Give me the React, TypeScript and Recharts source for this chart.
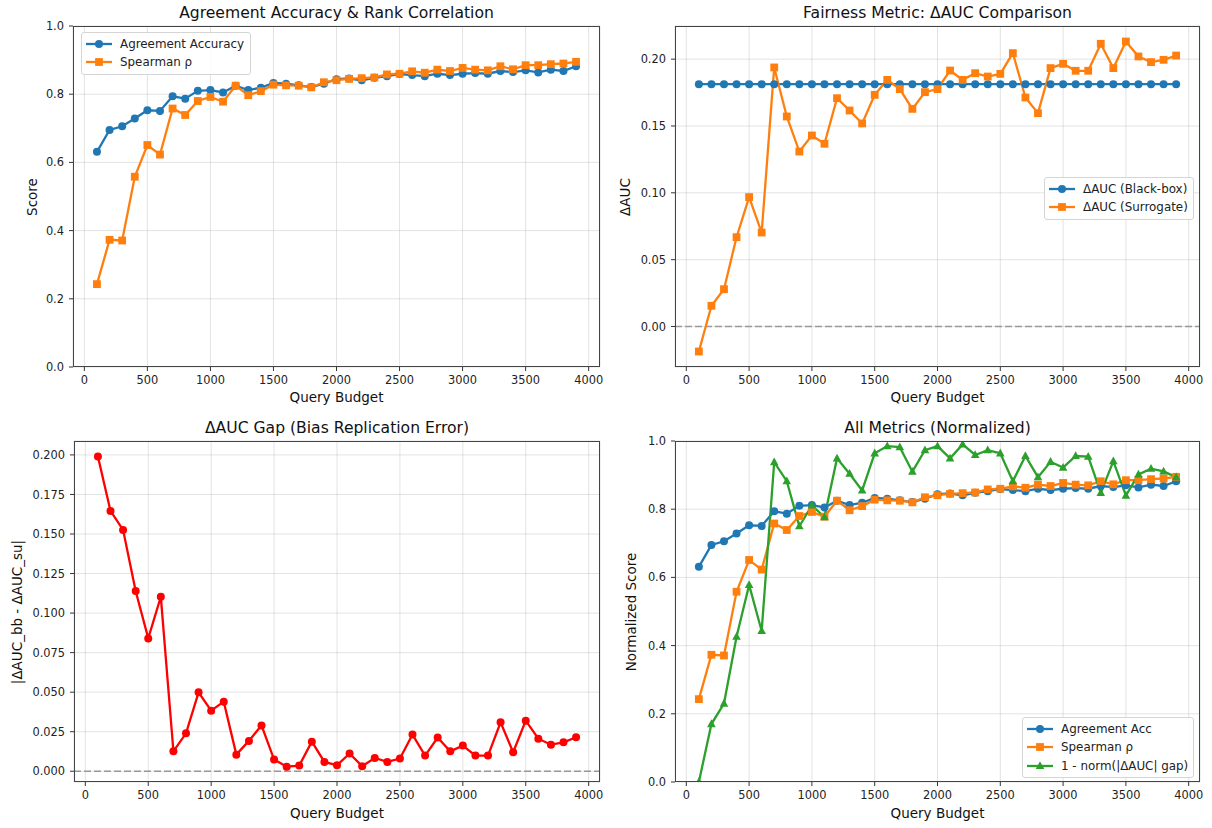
import React from "react"
import {
  LineChart,
  Line,
  XAxis,
  YAxis,
  CartesianGrid,
  ReferenceLine,
} from "recharts"

// query budgets (x values)
const budgets = [
  100, 200, 300, 400, 500, 600, 700, 800, 900, 1000, 1100, 1200, 1300,
  1400, 1500, 1600, 1700, 1800, 1900, 2000, 2100, 2200, 2300, 2400, 2500,
  2600, 2700, 2800, 2900, 3000, 3100, 3200, 3300, 3400, 3500, 3600, 3700,
  3800, 3900,
]

const agreementAcc = [
  0.631, 0.695, 0.706, 0.729, 0.753, 0.751, 0.794, 0.787, 0.81, 0.812,
  0.805, 0.825, 0.812, 0.819, 0.833, 0.831, 0.826, 0.821, 0.831, 0.844,
  0.846, 0.841, 0.848, 0.853, 0.859, 0.856, 0.853, 0.86, 0.856, 0.86,
  0.862, 0.86, 0.868, 0.865, 0.87, 0.864, 0.872, 0.868, 0.882,
]

const spearman = [
  0.243, 0.373, 0.371, 0.558, 0.651, 0.623, 0.758, 0.739, 0.78, 0.792,
  0.778, 0.825, 0.797, 0.809, 0.828, 0.826, 0.825, 0.82, 0.835, 0.841,
  0.845, 0.847, 0.849, 0.858, 0.86, 0.867, 0.863, 0.872, 0.868, 0.877,
  0.872, 0.87, 0.882, 0.873, 0.885, 0.885, 0.888, 0.89, 0.895,
]

const dAucBlackBox = [
  0.1813, 0.1813, 0.1813, 0.1813, 0.1813, 0.1813, 0.1813, 0.1813, 0.1813,
  0.1813, 0.1813, 0.1813, 0.1813, 0.1813, 0.1813, 0.1813, 0.1813, 0.1813,
  0.1813, 0.1813, 0.1813, 0.1813, 0.1813, 0.1813, 0.1813, 0.1813, 0.1813,
  0.1813, 0.1813, 0.1813, 0.1813, 0.1813, 0.1813, 0.1813, 0.1813, 0.1813,
  0.1813, 0.1813, 0.1813,
]

const dAucSurrogate = [
  -0.0187, 0.0155, 0.0279, 0.0668, 0.0968, 0.0703, 0.1938, 0.1571, 0.1309,
  0.1429, 0.1367, 0.1708, 0.1616, 0.1519, 0.1733, 0.1845, 0.1776, 0.1628,
  0.1753, 0.1776, 0.1915, 0.1845, 0.1895, 0.187, 0.189, 0.2045, 0.1713,
  0.1596, 0.1933, 0.1965, 0.1913, 0.1913, 0.2115, 0.1933, 0.2132, 0.202,
  0.1978, 0.1995, 0.2027,
]

const aucGap = [
  0.199, 0.1646, 0.1526, 0.1139, 0.084, 0.1103, 0.0126, 0.024, 0.0499,
  0.0383, 0.044, 0.0105, 0.0192, 0.029, 0.0074, 0.0029, 0.0036, 0.0187,
  0.0059, 0.0038, 0.0112, 0.0032, 0.0084, 0.0059, 0.008, 0.0232, 0.0099,
  0.0213, 0.0126, 0.0162, 0.0099, 0.0099, 0.0309, 0.012, 0.032, 0.0206,
  0.0168, 0.0183, 0.0215,
]

const gapScore = [
  0, 0.17, 0.23, 0.426, 0.578, 0.443, 0.938, 0.882, 0.75, 0.811, 0.777,
  0.949, 0.904, 0.855, 0.964, 0.985, 0.982, 0.91, 0.973, 0.985, 0.949,
  0.99, 0.959, 0.973, 0.964, 0.882, 0.956, 0.894, 0.939, 0.922, 0.956,
  0.954, 0.848, 0.941, 0.84, 0.902, 0.919, 0.911, 0.894,
]

const budgetTicks = [0, 500, 1000, 1500, 2000, 2500, 3000, 3500, 4000]
const scoreTicks = [0, 0.2, 0.4, 0.6, 0.8, 1.0]
const aucTicks = [0, 0.05, 0.1, 0.15, 0.2]
const gapTicks = [0, 0.025, 0.05, 0.075, 0.1, 0.125, 0.15, 0.175, 0.2]

const rows = budgets.map((b, i) => ({
  budget: b,
  acc: agreementAcc[i],
  rho: spearman[i],
  bb: dAucBlackBox[i],
  sur: dAucSurrogate[i],
  gap: aucGap[i],
  gapScore: gapScore[i],
}))

const BLUE = "#1f77b4"
const ORANGE = "#ff7f0e"
const GREEN = "#2ca02c"
const RED = "#ff0000"
const FONT = "'DejaVu Sans', sans-serif"

type Shape = "circle" | "square" | "triangle"

function markerEl(shape: Shape, x: number, y: number, color: string, key?: string) {
  if (shape === "square") {
    return <rect key={key} x={x - 3.9} y={y - 3.9} width={7.8} height={7.8} fill={color} />
  }
  if (shape === "triangle") {
    return (
      <polygon
        key={key}
        points={`${x},${y - 4.7} ${x - 4.3},${y + 3.1} ${x + 4.3},${y + 3.1}`}
        fill={color}
      />
    )
  }
  return <circle key={key} cx={x} cy={y} r={4} fill={color} />
}

const dotFor = (shape: Shape, color: string) => (props: any) =>
  markerEl(shape, props.cx, props.cy, color, `${shape}-${props.index}`)

interface LegendItem {
  label: string
  color: string
  shape: Shape
}

function PlotLegend({ items, left, top, width }: { items: LegendItem[]; left: number; top: number; width: number }) {
  return (
    <div
      style={{
        position: "absolute",
        left,
        top,
        width,
        boxSizing: "border-box",
        border: "1px solid #d5d5d5",
        borderRadius: 3,
        background: "rgba(255,255,255,0.85)",
        padding: "2px 0 2px 4px",
        fontFamily: FONT,
        fontSize: 11.9,
        color: "#222",
      }}
    >
      {items.map((it) => (
        <div key={it.label} style={{ display: "flex", alignItems: "center", height: 18.3 }}>
          <svg width={26} height={12} style={{ marginRight: 8, flex: "none" }}>
            <line x1={0} y1={6} x2={26} y2={6} stroke={it.color} strokeWidth={2.3} />
            {markerEl(it.shape, 13, 6, it.color)}
          </svg>
          <span style={{ whiteSpace: "nowrap" }}>{it.label}</span>
        </div>
      ))}
    </div>
  )
}

interface Rect {
  l: number
  t: number
  r: number
  b: number
}

const Y_W = 60
const X_H = 40
const PAD = 6

function Panel({
  rect,
  yDomain,
  yTicks,
  yFmt,
  zeroLine,
  children,
}: {
  rect: Rect
  yDomain: [number, number]
  yTicks: number[]
  yFmt: (v: number) => string
  zeroLine?: boolean
  children: React.ReactNode
}) {
  const w = rect.r - rect.l + Y_W + PAD
  const h = rect.b - rect.t + PAD + X_H
  const tickStyle = { fontSize: 11.4, fill: "#222", fontFamily: FONT }
  return (
    <>
      <div style={{ position: "absolute", left: rect.l - Y_W, top: rect.t - PAD }}>
        <LineChart width={w} height={h} data={rows} margin={{ top: PAD, right: PAD, bottom: 0, left: 0 }}>
          <CartesianGrid stroke="#b0b0b0" strokeOpacity={0.35} strokeWidth={1} />
          <XAxis
            type="number"
            dataKey="budget"
            domain={[-90, 4090]}
            ticks={budgetTicks}
            interval={0}
            allowDataOverflow
            height={X_H}
            axisLine={false}
            tickLine={{ stroke: "#333" }}
            tickSize={4}
            tickMargin={5}
            tick={tickStyle}
          />
          <YAxis
            type="number"
            domain={yDomain}
            ticks={yTicks}
            interval={0}
            allowDataOverflow
            width={Y_W}
            axisLine={false}
            tickLine={{ stroke: "#333" }}
            tickSize={4}
            tickMargin={5}
            tick={tickStyle}
            tickFormatter={yFmt}
          />
          {zeroLine && (
            <ReferenceLine y={0} stroke="#999" strokeWidth={1.4} strokeDasharray="7 3" />
          )}
          {children}
        </LineChart>
      </div>
      <div
        style={{
          position: "absolute",
          left: rect.l,
          top: rect.t,
          width: rect.r - rect.l,
          height: rect.b - rect.t,
          boxSizing: "border-box",
          border: "1px solid #444",
          pointerEvents: "none",
        }}
      />
    </>
  )
}

function Text({ x, y, size, rotate, children }: { x: number; y: number; size: number; rotate?: boolean; children: React.ReactNode }) {
  return (
    <div
      style={{
        position: "absolute",
        left: x,
        top: y,
        transform: `translate(-50%, -50%)${rotate ? " rotate(-90deg)" : ""}`,
        whiteSpace: "nowrap",
        fontFamily: FONT,
        fontSize: size,
        lineHeight: 1,
        color: "#111",
      }}
    >
      {children}
    </div>
  )
}

const P1: Rect = { l: 73, t: 26, r: 600, b: 367 }
const P2: Rect = { l: 675, t: 26, r: 1200, b: 367 }
const P3: Rect = { l: 74, t: 441, r: 600, b: 782 }
const P4: Rect = { l: 675, t: 441, r: 1200, b: 782 }

const line = (key: string, color: string, shape: Shape) => (
  <Line
    key={key}
    type="linear"
    dataKey={key}
    stroke={color}
    strokeWidth={2.3}
    dot={dotFor(shape, color)}
    activeDot={false}
    isAnimationActive={false}
  />
)

export default function App() {
  const f1 = (v: number) => v.toFixed(1)
  return (
    <div
      style={{
        position: "absolute",
        left: 0,
        top: 0,
        width: 1212,
        height: 828,
        background: "#fff",
        overflow: "hidden",
      }}
    >
      <Panel rect={P1} yDomain={[0, 1]} yTicks={scoreTicks} yFmt={f1}>
        {line("acc", BLUE, "circle")}
        {line("rho", ORANGE, "square")}
      </Panel>
      <Panel rect={P2} yDomain={[-0.0303, 0.2248]} yTicks={aucTicks} yFmt={(v) => v.toFixed(2)} zeroLine>
        {line("bb", BLUE, "circle")}
        {line("sur", ORANGE, "square")}
      </Panel>
      <Panel rect={P3} yDomain={[-0.0068, 0.2088]} yTicks={gapTicks} yFmt={(v) => v.toFixed(3)} zeroLine>
        {line("gap", RED, "circle")}
      </Panel>
      <Panel rect={P4} yDomain={[0, 1]} yTicks={scoreTicks} yFmt={f1}>
        {line("acc", BLUE, "circle")}
        {line("rho", ORANGE, "square")}
        {line("gapScore", GREEN, "triangle")}
      </Panel>

      <Text x={336.5} y={14} size={15.6}>Agreement Accuracy &amp; Rank Correlation</Text>
      <Text x={937.5} y={14} size={15.6}>Fairness Metric: ΔAUC Comparison</Text>
      <Text x={337} y={429} size={15.6}>ΔAUC Gap (Bias Replication Error)</Text>
      <Text x={937.5} y={429} size={15.6}>All Metrics (Normalized)</Text>

      <Text x={336.5} y={398} size={13.5}>Query Budget</Text>
      <Text x={937.5} y={398} size={13.5}>Query Budget</Text>
      <Text x={337} y={814} size={13.5}>Query Budget</Text>
      <Text x={937.5} y={814} size={13.5}>Query Budget</Text>

      <Text x={33} y={196.5} size={13.5} rotate>Score</Text>
      <Text x={626} y={196.5} size={13.5} rotate>ΔAUC</Text>
      <Text x={18} y={611.5} size={13.5} rotate>|ΔAUC_bb - ΔAUC_su|</Text>
      <Text x={632} y={611.5} size={13.5} rotate>Normalized Score</Text>

      <PlotLegend
        left={81}
        top={32}
        width={170}
        items={[
          { label: "Agreement Accuracy", color: BLUE, shape: "circle" },
          { label: "Spearman ρ", color: ORANGE, shape: "square" },
        ]}
      />
      <PlotLegend
        left={1044}
        top={177}
        width={150}
        items={[
          { label: "ΔAUC (Black-box)", color: BLUE, shape: "circle" },
          { label: "ΔAUC (Surrogate)", color: ORANGE, shape: "square" },
        ]}
      />
      <PlotLegend
        left={1022}
        top={717}
        width={172}
        items={[
          { label: "Agreement Acc", color: BLUE, shape: "circle" },
          { label: "Spearman ρ", color: ORANGE, shape: "square" },
          { label: "1 - norm(|ΔAUC| gap)", color: GREEN, shape: "triangle" },
        ]}
      />
    </div>
  )
}
